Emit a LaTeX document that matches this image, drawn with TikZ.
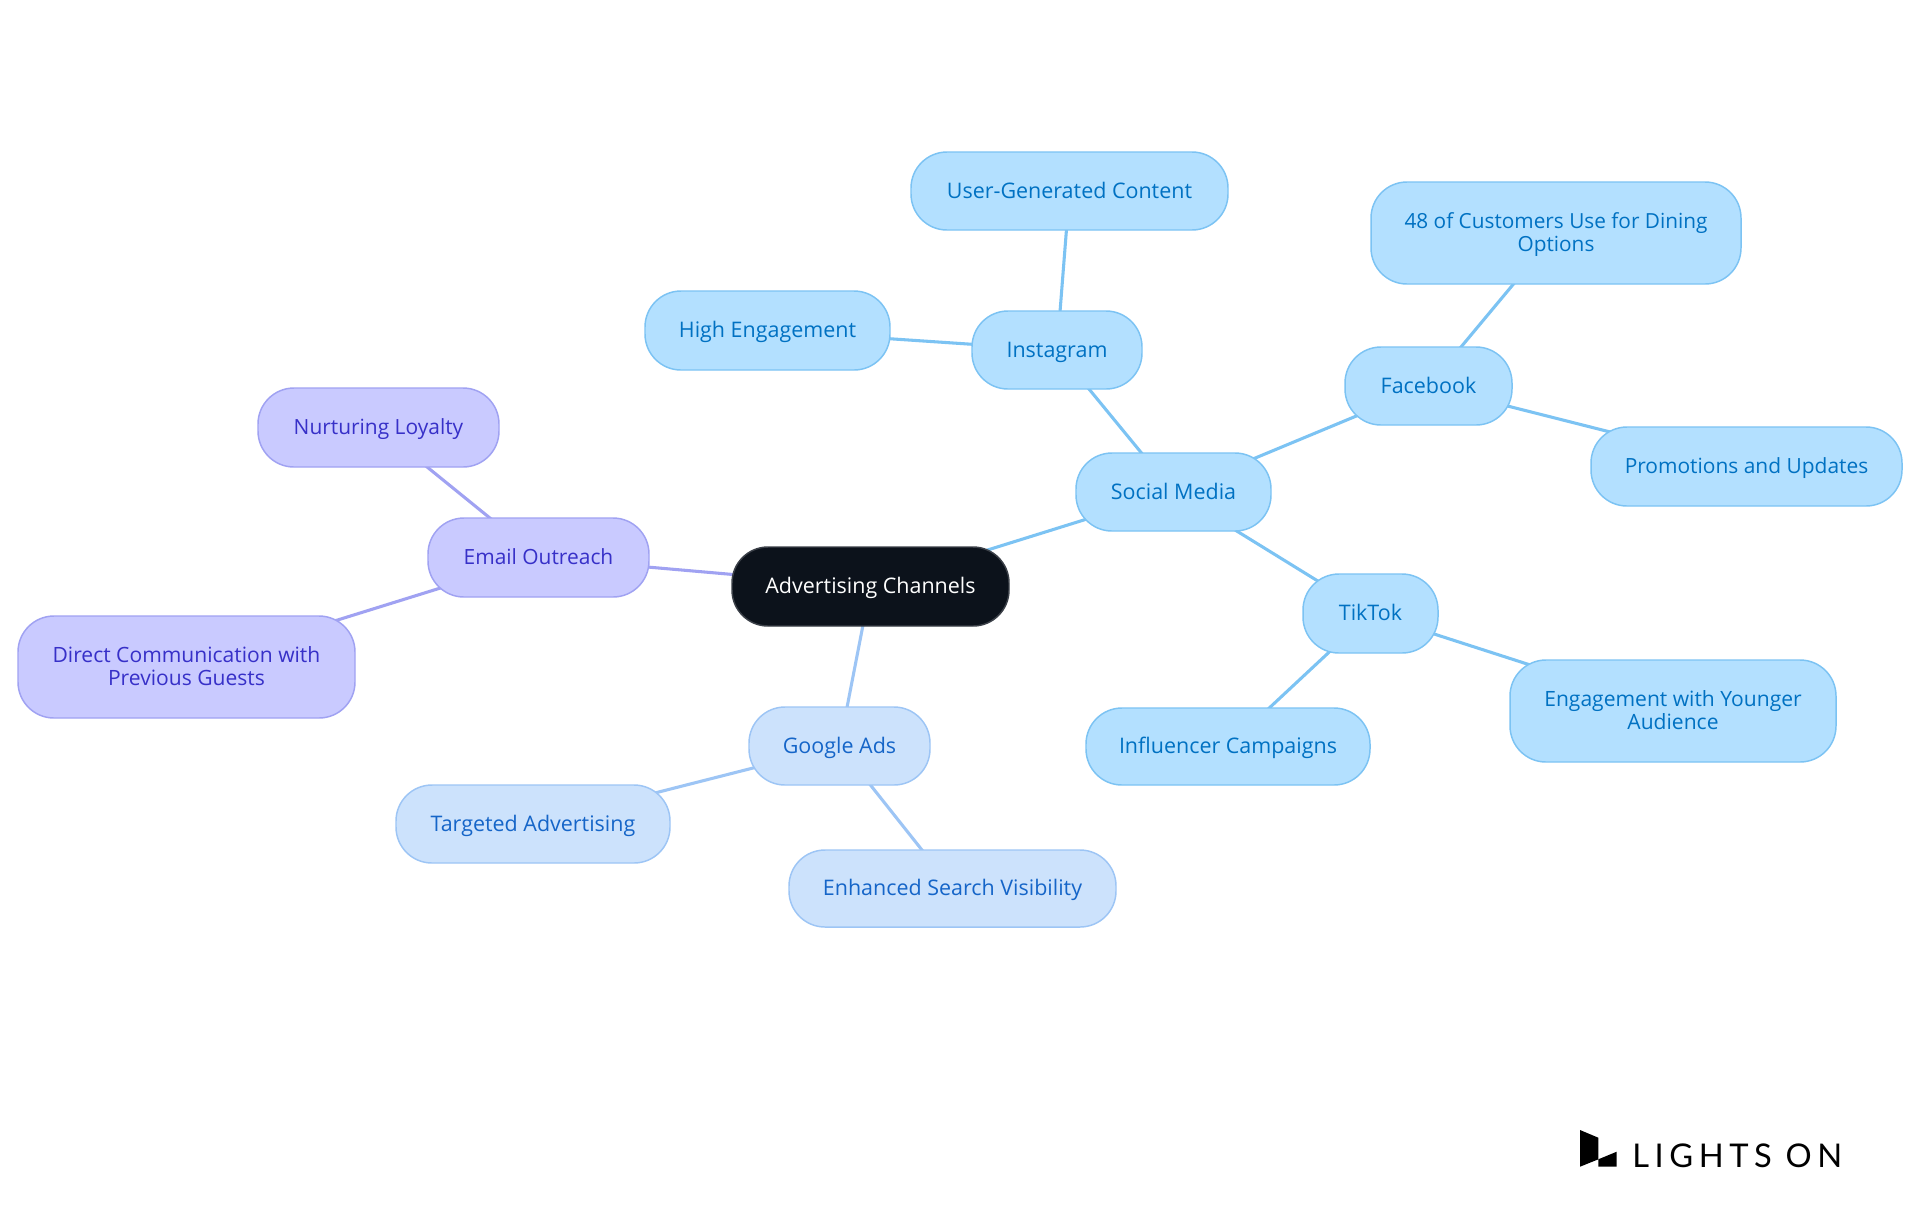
\documentclass[tikz,border=0pt]{standalone}
\usepackage{fontspec}
\setmainfont{Open Sans}
\newfontfamily\logofont[LetterSpace=17]{Lato}
\usetikzlibrary{backgrounds}
\definecolor{skyF}{HTML}{B3E0FF}\definecolor{skyD}{HTML}{7CC3F3}\definecolor{skyT}{HTML}{0071C2}
\definecolor{gooF}{HTML}{CCE2FC}\definecolor{gooD}{HTML}{9DC5F5}\definecolor{gooT}{HTML}{1565C8}
\definecolor{emaF}{HTML}{C9CAFF}\definecolor{emaD}{HTML}{A0A2F2}\definecolor{emaT}{HTML}{3730C8}
\definecolor{rootF}{HTML}{0C121B}\definecolor{rootD}{HTML}{3B4048}
\tikzset{
 x=0.75pt,y=-0.75pt,
 sz/.style 2 args={minimum width=#1*0.75pt,minimum height=#2*0.75pt},
 pill/.style={rectangle,rounded corners=27pt,draw,line width=1.1pt,inner sep=0pt,align=center,
   font=\fontsize{16.1}{17.5}\selectfont,execute at begin node={\rule{0pt}{15.85pt}},execute at end node=\strut},
 tight/.style={font=\fontsize{15.7}{17.5}\selectfont},
 twoln/.style={font=\fontsize{#1}{17.5}\selectfont,execute at begin node={\rule{0pt}{33pt}}},
 rootbox/.style={pill,fill=rootF,draw=rootD,text=white},
 skybox/.style={pill,fill=skyF,draw=skyD,text=skyT},
 goobox/.style={pill,fill=gooF,draw=gooD,text=gooT},
 emabox/.style={pill,fill=emaF,draw=emaD,text=emaT},
 link/.style={line width=2.3pt},
}
\begin{document}
\begin{tikzpicture}
\useasboundingbox (0,0) rectangle (1920,1215);
\node[rootbox,sz={277}{79}] (root) at (870.5,586.5) {Advertising Channels};
\node[skybox,sz={195}{78}] (social) at (1173.5,492) {Social Media};
\node[skybox,sz={170}{78}] (insta) at (1057,350) {Instagram};
\node[skybox,sz={317}{78}] (ugc) at (1069.5,191) {User-Generated Content};
\node[skybox,sz={245}{79}] (high) at (767.5,330.5) {High Engagement};
\node[skybox,sz={167}{78}] (fb) at (1428.5,386) {Facebook};
\node[skybox,twoln=15.6,sz={370}{102}] (pct) at (1556,233) {48 of Customers Use for Dining\\Options};
\node[skybox,tight,sz={311}{79}] (promo) at (1746.5,466.5) {Promotions and Updates};
\node[skybox,sz={135}{79}] (tt) at (1370.5,613.5) {TikTok};
\node[skybox,twoln=15.8,sz={326}{102}] (young) at (1673,711) {Engagement with Younger\\Audience};
\node[skybox,sz={284}{77}] (infl) at (1228,746.5) {Influencer Campaigns};
\node[goobox,sz={181}{78}] (gads) at (839.5,746) {Google Ads};
\node[goobox,sz={274}{78}] (tgt) at (533,824) {Targeted Advertising};
\node[goobox,sz={327}{77}] (seo) at (952.5,888.5) {Enhanced Search Visibility};
\node[emabox,tight,sz={221}{79}] (email) at (538.5,557.5) {Email Outreach};
\node[emabox,tight,sz={241}{79}] (nurt) at (378.5,427.5) {Nurturing Loyalty};
\node[emabox,twoln=15.8,sz={337}{102}] (direct) at (186.5,667) {Direct Communication with\\Previous Guests};
\begin{scope}[on background layer]
\fill[white] (0,0) rectangle (1920,1215);
\draw[link,skyD] (root.center)--(social.center) (social.center)--(insta.center) (insta.center)--(ugc.center) (insta.center)--(high.center)
  (social.center)--(fb.center) (fb.center)--(pct.center) (fb.center)--(promo.center) (social.center)--(tt.center) (tt.center)--(young.center) (tt.center)--(infl.center);
\draw[link,gooD] (root.center)--(gads.center) (gads.center)--(tgt.center) (gads.center)--(seo.center);
\draw[link,emaD] (root.center)--(email.center) (email.center)--(nurt.center) (email.center)--(direct.center);
\end{scope}
\fill[black] (1580,1130)--(1598.3,1137.7)--(1598.3,1159.3)--(1580,1166.7)--cycle;
\fill[black] (1598.3,1159.3)--(1616.7,1151.7)--(1616.7,1166.7)--(1598.3,1166.7)--cycle;
\node[anchor=base west,inner sep=0pt,text=black] (logo) at (1632,1167.5) {\logofont\fontsize{24.5}{24.5}\selectfont LIGHTS ON};
\end{tikzpicture}
\end{document}
